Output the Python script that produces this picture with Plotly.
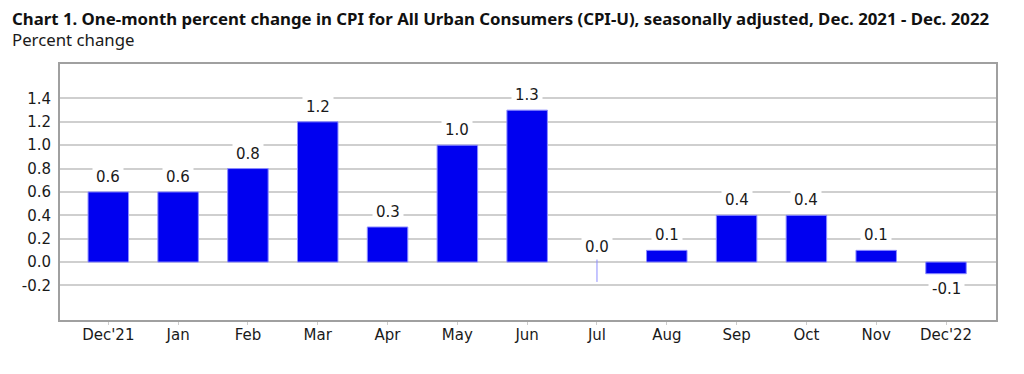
import plotly.graph_objects as go

months = ["Dec'21", "Jan", "Feb", "Mar", "Apr", "May", "Jun", "Jul",
          "Aug", "Sep", "Oct", "Nov", "Dec'22"]
pct_change = [0.6, 0.6, 0.8, 1.2, 0.3, 1.0, 1.3, 0.0, 0.1, 0.4, 0.4, 0.1, -0.1]
value_labels = ["0.6", "0.6", "0.8", "1.2", "0.3", "1.0", "1.3", "0.0",
                "0.1", "0.4", "0.4", "0.1", "-0.1"]
# thin stub drawn at the zero-valued July bar in the original
stub_up = [0, 0, 0, 0, 0, 0, 0, 0.03, 0, 0, 0, 0, 0]
stub_down = [0, 0, 0, 0, 0, 0, 0, 0.17, 0, 0, 0, 0, 0]
y_tickvals = [-0.2, 0.0, 0.2, 0.4, 0.6, 0.8, 1.0, 1.2, 1.4]
y_ticktext = ["-0.2", "0.0", "0.2", "0.4", "0.6", "0.8", "1.0", "1.2", "1.4"]

title = ("Chart 1. One-month percent change in CPI for All Urban Consumers (CPI-U), "
         "seasonally adjusted, Dec. 2021 - Dec. 2022")
subtitle = "Percent change"

TFONT = "Noto Sans"
AFONT = "DejaVu Sans"
OFF = 8  # page body margin
W, H = 1024 - OFF, 374 - OFF
ML, MR, MT, MB = 60 - OFF, 28, 64 - OFF, 54

fig = go.Figure()
fig.add_trace(go.Bar(
    x=list(range(len(months))),
    y=pct_change,
    width=0.58,
    marker=dict(color="#0000f0",
                line=dict(color="#8c8cff",
                          width=[0 if v == 0 else 1 for v in pct_change])),
    error_y=dict(type="data", symmetric=False, array=stub_up, arrayminus=stub_down,
                 color="#8c8cff", thickness=1, width=0),
    hoverinfo="skip",
))

for i, (v, lab) in enumerate(zip(pct_change, value_labels)):
    fig.add_annotation(
        x=i, y=v, xref="x", yref="y", text=lab, showarrow=False,
        yshift=15 if v >= 0 else -15, yanchor="middle",
        bgcolor="white", borderpad=3,
        font=dict(family=AFONT, size=15, color="#1a1a1a"),
    )

fig.add_annotation(
    x=(10 - OFF - ML) / (W - ML - MR), y=1 + (MT - (39 - OFF)) / (H - MT - MB),
    xref="paper", yref="paper", xanchor="left", yanchor="middle",
    text=subtitle, showarrow=False,
    font=dict(family=TFONT, size=16.8, color="#1a1a1a"),
)

fig.update_layout(
    width=W, height=H,
    margin=dict(l=ML, r=MR, t=MT, b=MB),
    paper_bgcolor="white", plot_bgcolor="white",
    showlegend=False,
    title=dict(text="<b>" + title + "</b>", x=(12 - OFF) / W, xanchor="left",
               xref="container", yref="container", y=1 - (19 - OFF) / H,
               yanchor="middle",
               font=dict(family=TFONT, size=16.8, color="#111111")),
    xaxis=dict(
        range=[-0.692, 12.716], tickmode="array",
        tickvals=list(range(len(months))), ticktext=months,
        showgrid=False, zeroline=False,
        showline=True, linecolor="#a0a0a0", linewidth=2, mirror=True,
        ticks="outside", ticklen=3, tickcolor="#cccccc",
        ticklabelstandoff=-3,
        tickfont=dict(family=AFONT, size=15, color="#1a1a1a"),
    ),
    yaxis=dict(
        range=[-0.496, 1.695], tickmode="array",
        tickvals=y_tickvals, ticktext=y_ticktext,
        showgrid=True, gridcolor="#cfcfcf", gridwidth=1.5, zeroline=False,
        showline=True, linecolor="#a0a0a0", linewidth=2, mirror=True,
        ticks="", ticklabelstandoff=4,
        tickfont=dict(family=AFONT, size=15, color="#1a1a1a"),
    ),
)

fig.write_html("out.html")
